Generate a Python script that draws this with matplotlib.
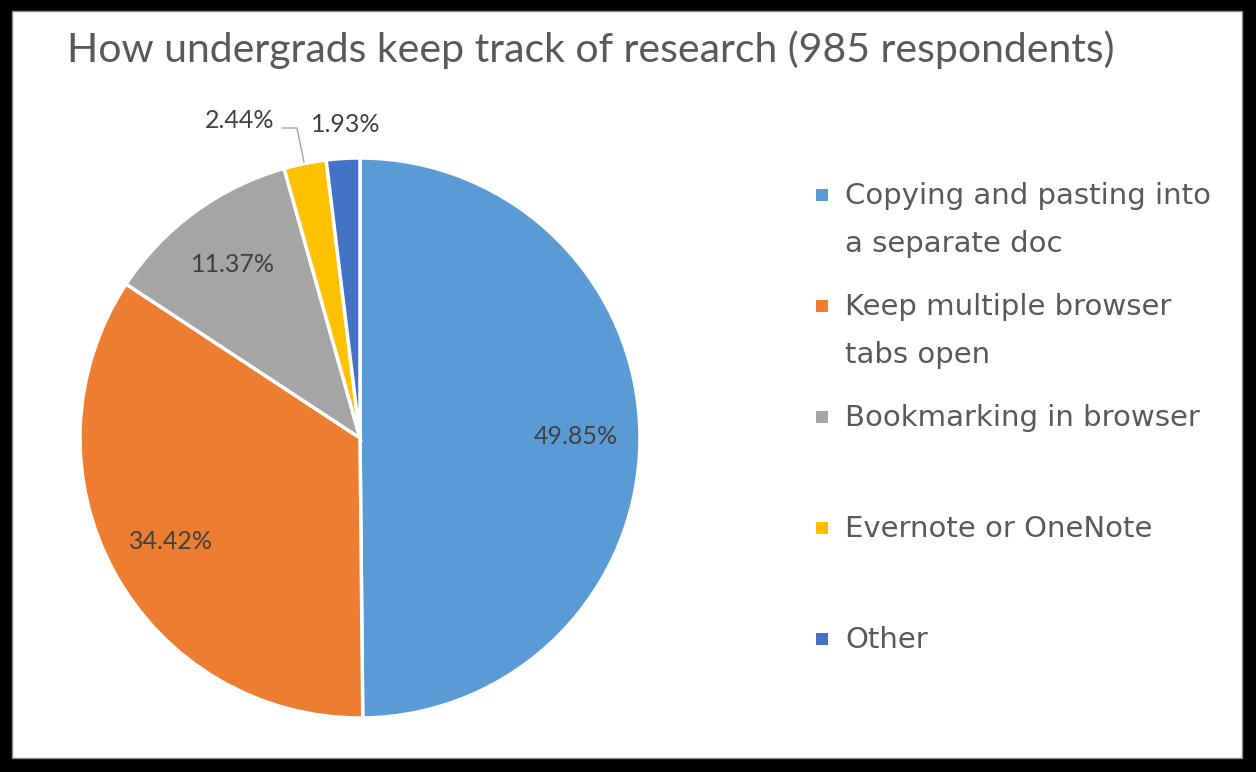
import matplotlib.pyplot as plt
from matplotlib.patches import Rectangle

plt.rcParams['font.family'] = ['Lato', 'DejaVu Sans']

title = "How undergrads keep track of research (985 respondents)"
categories = ["Copying and pasting into\na separate doc",
              "Keep multiple browser\ntabs open",
              "Bookmarking in browser",
              "Evernote or OneNote",
              "Other"]
shares = [49.85, 34.42, 11.37, 2.44, 1.93]
colors = ["#5B9BD5", "#ED7D31", "#A5A5A5", "#FFC000", "#4472C4"]

W, H = 1256, 772
fig = plt.figure(figsize=(W / 100, H / 100), dpi=100, facecolor="black")


def fx(x):
    return x / W


def fy(y):
    return 1 - y / H


# white chart area
fig.patches.append(Rectangle((fx(12), fy(758)), (1242 - 12) / W, (758 - 11) / H,
                             transform=fig.transFigure, facecolor="white",
                             edgecolor="#8c8c8c", lw=1, zorder=-5))

fig.text(fx(591), fy(62), title, ha="center", va="baseline", fontsize=29.5, color="#595959")

# pie, centre (360, 438) radius 280 px
cx, cy, r = 360, 438, 280
ax = fig.add_axes([fx(cx - r), fy(cy + r), 2 * r / W, 2 * r / H])
ax.set_zorder(2)
wedges, texts, autotexts = ax.pie(shares, colors=colors, startangle=90, counterclock=False,
                                  autopct=lambda p: "", pctdistance=0.77,
                                  wedgeprops=dict(edgecolor="white", linewidth=2.5))
ax.set_xlim(-1, 1)
ax.set_ylim(-1, 1)
ax.set_aspect("equal")
ax.axis("off")

for i, t in enumerate(autotexts):
    t.set_text(f"{shares[i]:.2f}%")
    t.set_fontsize(18)
    t.set_color("#404040")

# small slices: labels outside
autotexts[3].set_position(((240 - cx) / r, (cy - 120) / r))
autotexts[4].set_position(((346 - cx) / r, (cy - 124) / r))
ax.plot([(282 - cx) / r, (297 - cx) / r, (304 - cx) / r],
        [(cy - 128) / r, (cy - 128) / r, (cy - 162) / r],
        color="#a6a6a6", lw=1, clip_on=False)

# legend, drawn by hand so markers align with the first line of each entry
for i, (lab, c) in enumerate(zip(categories, colors)):
    ymark = 195 + 111 * i
    fig.patches.append(Rectangle((fx(816), fy(ymark + 6)), 12 / W, 12 / H,
                                 transform=fig.transFigure, facecolor=c, edgecolor="none"))
    for k, line in enumerate(lab.split("\n")):
        fig.text(fx(845), fy(ymark + 9 + 48 * k), line, ha="left", va="baseline",
                 fontsize=21, color="#595959", family="DejaVu Sans")

fig.savefig("out.png", dpi=100, facecolor="black")
